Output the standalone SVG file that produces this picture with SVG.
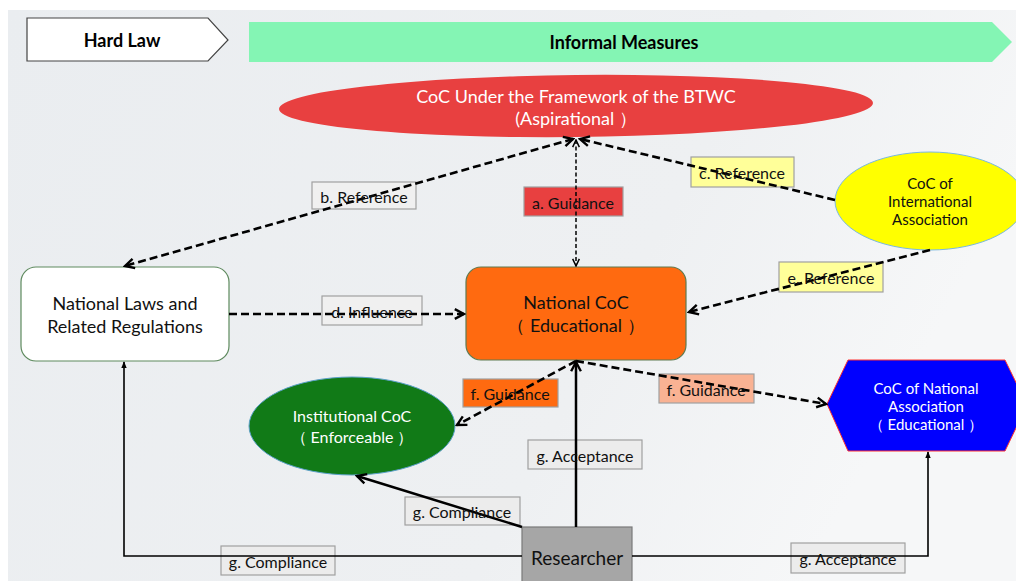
<svg xmlns="http://www.w3.org/2000/svg" width="1016" height="581" viewBox="0 0 1016 581">
<defs>
<linearGradient id="bg" x1="0" y1="0" x2="1" y2="0.3">
<stop offset="0" stop-color="#eaedf0"/>
<stop offset="0.7" stop-color="#eef0f2"/>
<stop offset="1" stop-color="#f6f7f8"/>
</linearGradient>
<marker id="open" viewBox="0 0 12 12" refX="10.5" refY="6" markerWidth="13" markerHeight="13" markerUnits="userSpaceOnUse" orient="auto-start-reverse">
<path d="M2,1.5 L10.5,6 L2,10.5" fill="none" stroke="#000" stroke-width="2.2"/>
</marker>
<marker id="openS" viewBox="0 0 12 12" refX="10.5" refY="6" markerWidth="10" markerHeight="10" markerUnits="userSpaceOnUse" orient="auto-start-reverse">
<path d="M2,2 L10.5,6 L2,10" fill="none" stroke="#000" stroke-width="1.8"/>
</marker>
<marker id="tri" viewBox="0 0 10 10" refX="9" refY="5" markerWidth="7" markerHeight="7" markerUnits="userSpaceOnUse" orient="auto">
<path d="M0,1 L10,5 L0,9 Z" fill="#000"/>
</marker>
</defs>
<style>
text{font-family:Lato,"Open Sans","Liberation Sans",sans-serif;text-anchor:middle;dominant-baseline:central}
.dash{fill:none;stroke:#000;stroke-width:2.6;stroke-dasharray:8 4}
.fine{fill:none;stroke:#000;stroke-width:1.5;stroke-dasharray:4 2.5}
.solid{fill:none;stroke:#000;stroke-width:2.5}
.thin{fill:none;stroke:#000;stroke-width:1.6}
.lbl{stroke:#a0a0a0;stroke-width:1.2}
.gray{fill:#ececec}
.lt{font-size:16px;fill:#111}
.nt{font-size:18px;fill:#111}
.wt{fill:#fff}
</style>
<rect width="1016" height="581" fill="#fff"/>
<rect x="8" y="10" width="1008" height="571" fill="url(#bg)"/>

<g id="hard-law">
<path d="M27,18 L208,18 L228,40 L208,61 L27,61 Z" fill="#fff" stroke="#444" stroke-width="1.2"/>
<text x="122" y="40" font-size="18" font-weight="bold" fill="#000">Hard Law</text>
</g>
<g id="informal-measures">
<path d="M249,22 L992,22 L1012,42 L992,62 L249,62 Z" fill="#84f5b4"/>
<text x="624" y="42" font-size="18" font-weight="bold" fill="#000">Informal Measures</text>
</g>

<g id="btwc">
<ellipse cx="576" cy="106" rx="297" ry="31" fill="#e84040" transform="rotate(-0.6 576 106)"/>
<text x="576" y="96" class="wt" font-size="18">CoC Under the Framework of the BTWC</text>
<text x="576" y="118" class="wt" font-size="18">(Aspirational ）</text>
</g>

<g id="national-laws">
<rect x="21" y="267" width="208" height="94" rx="15" fill="#fff" stroke="#5e8a5e" stroke-width="1.2"/>
<text x="125" y="303" class="nt">National Laws and</text>
<text x="125" y="326" class="nt">Related Regulations</text>
</g>

<g id="national-coc">
<rect x="466" y="267" width="220" height="93" rx="15" fill="#ff6a10" stroke="#5e7a50" stroke-width="1.2"/>
<text x="576" y="302" class="nt">National CoC</text>
<text x="576" y="325" class="nt">（ Educational ）</text>
</g>

<g id="international-association">
<ellipse cx="930" cy="201" rx="95" ry="49" fill="#ffff00" stroke="#7ab8e0" stroke-width="1"/>
<text x="930" y="183" font-size="15" fill="#111">CoC of</text>
<text x="930" y="201" font-size="15" fill="#111">International</text>
<text x="930" y="219" font-size="15" fill="#111">Association</text>
</g>

<g id="institutional-coc">
<ellipse cx="352" cy="426" rx="103" ry="49" fill="#117a17" stroke="#5aa0c8" stroke-width="1"/>
<text x="352" y="415" class="wt" font-size="16">Institutional CoC</text>
<text x="352" y="436" class="wt" font-size="16">（ Enforceable ）</text>
</g>

<g id="national-association">
<path d="M848,360 L1005,360 L1027,405 L1005,451 L848,451 L827,404 Z" fill="#0000ff" stroke="#ff3030" stroke-width="1"/>
<text x="926" y="388" class="wt" font-size="15">CoC of National</text>
<text x="926" y="406" class="wt" font-size="15">Association</text>
<text x="926" y="424" class="wt" font-size="15">（ Educational ）</text>
</g>

<g id="researcher">
<rect x="522" y="527" width="110" height="60" fill="#a6a6a6" stroke="#7a7a7a" stroke-width="1.2"/>
<text x="577" y="557" font-size="19" fill="#111">Researcher</text>
</g>

<g id="connectors">
<g id="label-boxes">
<rect x="312" y="182" width="104" height="27" class="lbl" fill="#f0f0f0"/>
<rect x="524" y="187" width="99" height="29" class="lbl" fill="#e84040"/>
<rect x="691" y="157" width="103" height="30" class="lbl" fill="#ffff99"/>
<rect x="322" y="296" width="100" height="29" class="lbl" fill="#f0f0f0"/>
<rect x="779" y="262" width="104" height="30" class="lbl" fill="#ffff99"/>
<rect x="463" y="379" width="95" height="28" class="lbl" fill="#ff6a10"/>
<rect x="659" y="374" width="95" height="29" class="lbl" fill="#f9b293"/>
<rect x="528" y="440" width="114" height="29" class="lbl gray"/>
<rect x="405" y="497" width="115" height="28" class="lbl gray"/>
<rect x="221" y="546" width="114" height="29" class="lbl gray"/>
<rect x="791" y="543" width="114" height="30" class="lbl gray"/>
</g>
<line x1="576" y1="140" x2="576" y2="266" class="fine" marker-start="url(#openS)" marker-end="url(#openS)"/>
<line x1="573" y1="139" x2="125" y2="266" class="dash" marker-start="url(#open)" marker-end="url(#open)"/>
<line x1="835" y1="200" x2="580" y2="139" class="dash" marker-end="url(#open)"/>
<line x1="229" y1="314" x2="464" y2="314" class="dash" marker-end="url(#open)"/>
<line x1="930" y1="250" x2="689" y2="312" class="dash" marker-end="url(#open)"/>
<line x1="576" y1="361" x2="457" y2="425" class="dash" marker-end="url(#open)"/>
<line x1="576" y1="361" x2="826" y2="404" class="dash" marker-end="url(#open)"/>
<line x1="576" y1="527" x2="576" y2="362" class="solid" marker-end="url(#open)"/>
<line x1="522" y1="527" x2="357" y2="476" class="solid" marker-end="url(#open)"/>
<polyline points="522,556 124,556 124,362" class="thin" marker-end="url(#tri)"/>
<polyline points="632,556 928,556 928,452" class="thin" marker-end="url(#tri)"/>
<g id="labels">
<text x="364" y="196" class="lt">b. Reference</text>
<text x="573" y="202" class="lt">a. Guidance</text>
<text x="742" y="172" class="lt">c. Reference</text>
<text x="372" y="311" class="lt">d. Influence</text>
<text x="831" y="277" class="lt">e. Reference</text>
<text x="510" y="393" class="lt">f. Guidance</text>
<text x="706" y="389" class="lt">f. Guidance</text>
<text x="585" y="455" class="lt">g. Acceptance</text>
<text x="462" y="511" class="lt">g. Compliance</text>
<text x="278" y="561" class="lt">g. Compliance</text>
<text x="848" y="558" class="lt">g. Acceptance</text>
</g>
</g>
</svg>
